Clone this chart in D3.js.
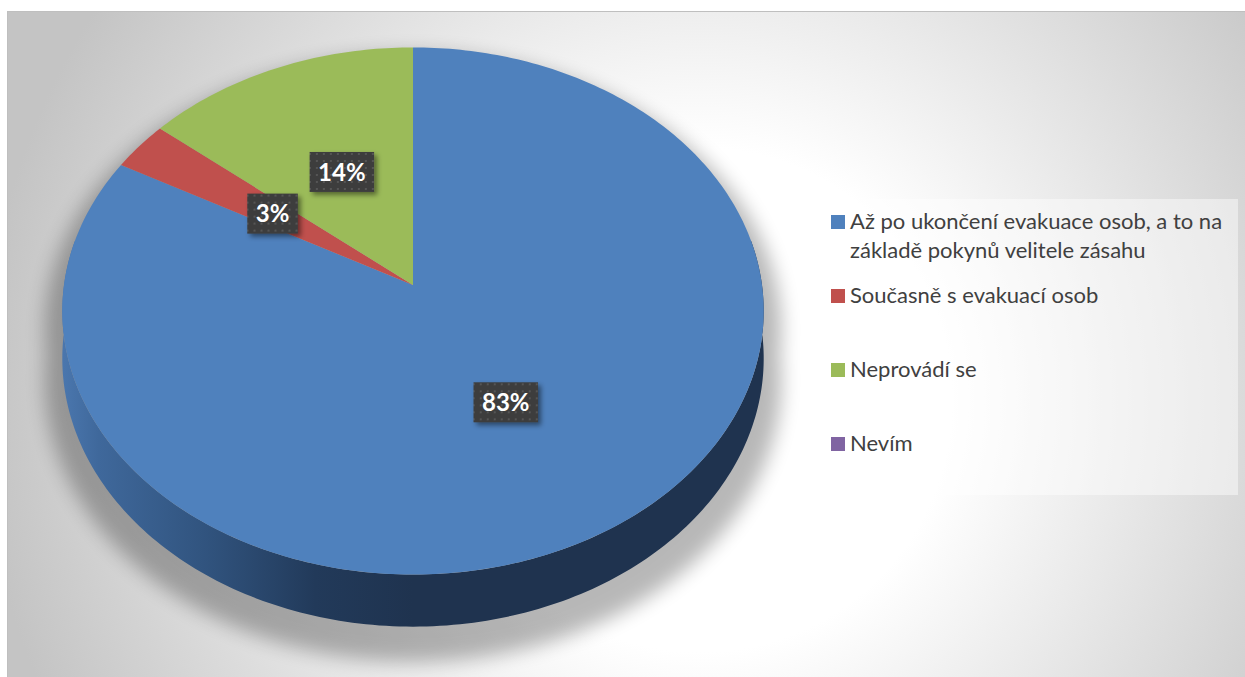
<!DOCTYPE html>
<html>
<head>
<meta charset="utf-8">
<script src="https://cdn.jsdelivr.net/npm/d3@7"></script>
<style>
  html, body { margin: 0; padding: 0; background: #ffffff; }
  svg { display: block; }
</style>
</head>
<body>
<svg id="chart" width="1245" height="677"></svg>
<script>
// Survey answers and their shares (%)
const categories = [
  "Až po ukončení evakuace osob, a to na základě pokynů velitele zásahu",
  "Současně s evakuací osob",
  "Neprovádí se",
  "Nevím"
];
const legendLines = [
  ["Až po ukončení evakuace osob, a to na", "základě pokynů velitele zásahu"],
  ["Současně s evakuací osob"],
  ["Neprovádí se"],
  ["Nevím"]
];
const values = [83, 3, 14, 0];
const colors = ["#4F81BD", "#C0504D", "#9BBB59", "#8064A2"];

const W = 1245, H = 677;
const svg = d3.select("#chart");
const defs = svg.append("defs");

// Plot area background: soft radial fill
const bg = defs.append("radialGradient").attr("id", "bgGrad")
  .attr("gradientUnits", "userSpaceOnUse")
  .attr("cx", 700).attr("cy", 400).attr("r", 720);
bg.append("stop").attr("offset", 0).attr("stop-color", "#ffffff");
bg.append("stop").attr("offset", 0.35).attr("stop-color", "#ffffff");
bg.append("stop").attr("offset", 1).attr("stop-color", "#c4c4c4");

svg.append("rect").attr("x", 7.5).attr("y", 11.5)
  .attr("width", W).attr("height", H)
  .attr("fill", "url(#bgGrad)").attr("stroke", "#bfbfbf").attr("stroke-width", 1);

// 3D pie geometry (perspective-projected disc)
const cx = 413, cy = 285, R = 349, A = 261, persp = -0.0985, depth = 47;
function proj(theta, f, z) {
  const sn = Math.sin(theta), t = -Math.cos(theta);
  const D = 1 + persp * f * t;
  return [cx + R * f * sn / D, cy + (A * f * t + depth * z) / D];
}
const line = d3.line();
function arcPoints(a0, a1, z, n) {
  const pts = [];
  for (let i = 0; i <= n; i++) pts.push(proj(a0 + (a1 - a0) * i / n, 1, z));
  return pts;
}

const pie = d3.pie().sort(null).value(d => d)(values);

// Shadow under the disc
const blur = defs.append("filter").attr("id", "shadowBlur")
  .attr("x", "-20%").attr("y", "-20%").attr("width", "140%").attr("height", "140%");
blur.append("feGaussianBlur").attr("stdDeviation", 9);

const full = arcPoints(0, 2 * Math.PI, 0, 240);
const sideTop = arcPoints(Math.PI * 80 / 180, Math.PI * 280 / 180, 0, 200);
const sideBot = arcPoints(Math.PI * 280 / 180, Math.PI * 80 / 180, 1, 200);
const silhouette = line(sideTop.concat(sideBot)) + "Z" + line(full) + "Z";

svg.append("path")
  .attr("d", silhouette)
  .attr("transform", `translate(${cx},${cy + 18}) scale(1.05) translate(${-cx},${-cy})`)
  .attr("fill", "#000").attr("opacity", 0.28)
  .attr("filter", "url(#shadowBlur)");

// Side wall of the disc
const sideGrad = defs.append("linearGradient").attr("id", "sideGrad")
  .attr("gradientUnits", "userSpaceOnUse")
  .attr("x1", cx - R).attr("x2", cx + R).attr("y1", 0).attr("y2", 0);
[[0, "#4a76ad"], [0.05, "#3f689b"], [0.2, "#31547f"], [0.36, "#223a5a"], [0.5, "#1f334f"], [1, "#1f334f"]]
  .forEach(([o, c]) => sideGrad.append("stop").attr("offset", o).attr("stop-color", c));

svg.append("path")
  .attr("d", line(sideTop.concat(sideBot)) + "Z")
  .attr("fill", "url(#sideGrad)");

// Top face slices
svg.append("g").selectAll("path")
  .data(pie.filter(d => d.endAngle > d.startAngle))
  .join("path")
  .attr("d", d => {
    const n = Math.max(4, Math.ceil((d.endAngle - d.startAngle) * 60));
    return line([proj(0, 0, 0)].concat(arcPoints(d.startAngle, d.endAngle, 0, n))) + "Z";
  })
  .attr("fill", (d, i) => colors[d.index]);

// Data labels
const pat = defs.append("pattern").attr("id", "dots")
  .attr("patternUnits", "userSpaceOnUse").attr("width", 7).attr("height", 7);
pat.append("rect").attr("width", 7).attr("height", 7).attr("fill", "#3d3d3d");
pat.append("rect").attr("x", 2).attr("y", 2).attr("width", 2).attr("height", 2).attr("fill", "#555555");

const lblShadow = defs.append("filter").attr("id", "lblShadow")
  .attr("x", "-30%").attr("y", "-30%").attr("width", "160%").attr("height", "160%");
lblShadow.append("feDropShadow").attr("dx", 3).attr("dy", 3).attr("stdDeviation", 2.5)
  .attr("flood-color", "#000").attr("flood-opacity", 0.45);

const fmt = v => v + "%";
const labels = svg.append("g").selectAll("g")
  .data(pie.filter(d => d.value > 0))
  .join("g")
  .attr("transform", d => {
    const [x, y] = proj((d.startAngle + d.endAngle) / 2, 0.5, 0);
    return `translate(${x},${y})`;
  });

labels.each(function(d) {
  const g = d3.select(this);
  const txt = g.append("text")
    .attr("text-anchor", "middle").attr("dy", "0.36em")
    .attr("font-family", "Lato, 'Open Sans', sans-serif")
    .attr("font-weight", "bold").attr("font-size", 24)
    .attr("fill", "#ffffff")
    .text(fmt(d.value));
  const w = txt.node().getComputedTextLength() + 17;
  g.insert("rect", "text")
    .attr("x", -w / 2).attr("y", -20).attr("width", w).attr("height", 40)
    .attr("fill", "url(#dots)").attr("filter", "url(#lblShadow)");
});

// Legend
svg.append("rect").attr("x", 818).attr("y", 199).attr("width", 420).attr("height", 296)
  .attr("fill", "#ffffff").attr("opacity", 0.45);

const legendY = [229, 303, 377, 451];
const leg = svg.append("g").selectAll("g")
  .data(categories)
  .join("g")
  .attr("transform", (d, i) => `translate(831,${legendY[i]})`);
leg.append("rect").attr("x", 0).attr("y", -14).attr("width", 14).attr("height", 14)
  .attr("fill", (d, i) => colors[i]);
leg.append("text")
  .attr("x", 19)
  .attr("font-family", "Lato, 'Open Sans', sans-serif")
  .attr("font-size", 22).attr("fill", "#404040")
  .selectAll("tspan")
  .data((d, i) => legendLines[i])
  .join("tspan")
  .attr("x", 19).attr("dy", (d, j) => j === 0 ? 0 : 29)
  .text(d => d);
</script>
</body>
</html>
